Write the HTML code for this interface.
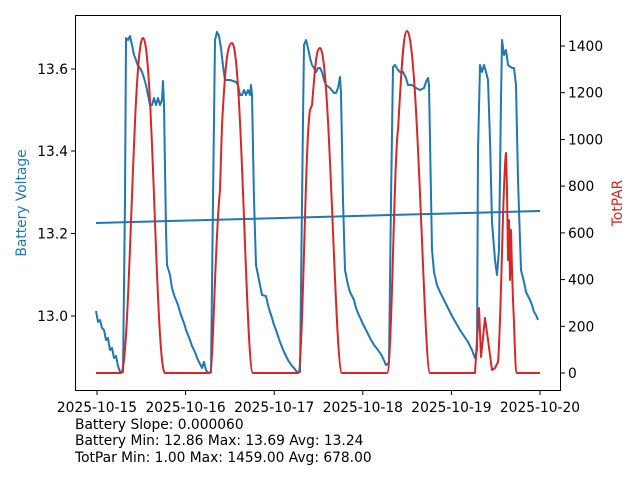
<!DOCTYPE html>
<html><head><style>body{margin:0;background:#fff}svg text{font-family:"DejaVu Sans","Liberation Sans",sans-serif;font-size:13.8px}</style></head>
<body>
<svg width="640" height="480" viewBox="0 0 640 480" xmlns="http://www.w3.org/2000/svg">
<rect width="640" height="480" fill="#fff"/>
<g fill="none" stroke-linejoin="round" stroke-width="2">
<polyline stroke="#1f77b4" points="96,223 540,211"/>
<polyline stroke="#1f77b4" points="96,311 98,322 100,320 102,328 104,330 106,340 108,338 110,350 112,348 114,358 116,356 118,366 120,372 123,372 125,200 126,38 128,40 130,36 132,45 134,55 136,60 138,66 140,68 142,72 144,78 146,85 148,95 150,105 152,105 154,98 156,105 158,98 160,105 162,100 163,81 164,105 166,230 167,265 170,275 172,288 174,295 176,300 178,305 180,312 182,318 184,323 186,330 188,335 190,340 192,346 194,350 196,355 198,360 200,364 202,368 204,362 206,370 208,373 211,372 213,200 215,40 217,32 219,36 221,48 223,66 225,80 230,80 236,82 238,85 240,95 242,95 244,90 246,95 248,90 250,95 251,85 252,95 254,200 256,265 260,285 262,295 266,296 268,305 270,312 272,318 274,325 276,330 278,336 280,342 282,347 284,352 286,356 288,360 290,363 292,366 294,368 297,372 300,372 303,120 304,45 306,40 308,48 310,58 312,65 314,68 316,72 318,68 320,68 322,72 324,80 326,85 330,88 334,93 336,93 338,88 340,77 341,93 343,200 345,270 348,285 350,292 354,300 356,308 358,313 362,322 366,330 370,338 374,345 378,350 382,356 386,365 389,363 391,200 393,67 395,65 398,70 400,72 403,72 406,78 408,85 412,85 416,88 420,90 424,88 426,82 428,78 429,85 432,250 434,272 437,285 440,292 444,300 448,308 452,316 456,323 460,330 464,336 468,342 472,350 475,358 477,350 478,150 480,65 482,72 484,65 486,72 488,80 490,140 492,222 495,260 497,275 499,250 501,100 502,40 504,55 506,50 508,65 512,68 514,68 516,85 518,180 521,270 524,282 526,292 530,300 532,305 534,312 536,315 538,320"/>
<polyline stroke="#d62728" points="96,373 121,373"/>
<path stroke="#d62728" d="M121,373 C130,373 133,38 143,38 C153,38 156,373 165,373 L210,373 C213,373 215,240 220,190 L222,125 C225,70 227,43 232,43 C242,43 246,373 253,373 L298,373 C303,373 305,140 310,110 L312,105 C315,70 316,48 320,48 C330,48 335,373 342,373 L387,373 C392,373 394,150 398,130 C401,80 403,31 407,31 C418,31 424,373 430,373 L475,373 L477,340 L479,308 L481,357 L485,318 L488,340 L490,355 L492,370 L495,368 L498,362 C501,330 503,170 506,153 L507,190 L508,260 L509,220 L510,280 L511,230 L512,270 L513,300 C515,340 515,373 517,373 L540,373"/>
</g>
<rect x="75.5" y="15.5" width="485" height="375" fill="none" stroke="#000" stroke-width="1"/>
<g stroke="#000" stroke-width="1">
<line x1="75" y1="316" x2="71" y2="316"/><line x1="75" y1="233.5" x2="71" y2="233.5"/><line x1="75" y1="151" x2="71" y2="151"/><line x1="75" y1="69" x2="71" y2="69"/>
<line x1="561" y1="373" x2="565" y2="373"/><line x1="561" y1="326.3" x2="565" y2="326.3"/><line x1="561" y1="279.6" x2="565" y2="279.6"/><line x1="561" y1="232.9" x2="565" y2="232.9"/><line x1="561" y1="186.1" x2="565" y2="186.1"/><line x1="561" y1="139.4" x2="565" y2="139.4"/><line x1="561" y1="92.7" x2="565" y2="92.7"/><line x1="561" y1="46" x2="565" y2="46"/>
<line x1="97" y1="391" x2="97" y2="395"/><line x1="185.6" y1="391" x2="185.6" y2="395"/><line x1="274.2" y1="391" x2="274.2" y2="395"/><line x1="362.8" y1="391" x2="362.8" y2="395"/><line x1="451.4" y1="391" x2="451.4" y2="395"/><line x1="540" y1="391" x2="540" y2="395"/>
</g>
<g text-anchor="end">
<text x="68" y="321">13.0</text><text x="68" y="238.5">13.2</text><text x="68" y="156">13.4</text><text x="68" y="74">13.6</text>
</g>
<g>
<text x="568" y="378">0</text><text x="568" y="331.3">200</text><text x="568" y="284.6">400</text><text x="568" y="237.9">600</text><text x="568" y="191.1">800</text><text x="568" y="144.4">1000</text><text x="568" y="97.7">1200</text><text x="568" y="51">1400</text>
</g>
<g text-anchor="middle">
<text x="97" y="412">2025-10-15</text><text x="185.6" y="412">2025-10-16</text><text x="274.2" y="412">2025-10-17</text><text x="362.8" y="412">2025-10-18</text><text x="451.4" y="412">2025-10-19</text><text x="540" y="412">2025-10-20</text>
</g>
<text transform="translate(26,203) rotate(-90)" text-anchor="middle" fill="#1f77b4">Battery Voltage</text>
<text transform="translate(622,203) rotate(-90)" text-anchor="middle" fill="#d62728">TotPAR</text>
<text x="75" y="429">Battery Slope: 0.000060</text>
<text x="75" y="445">Battery Min: 12.86 Max: 13.69 Avg: 13.24</text>
<text x="75" y="462">TotPar Min: 1.00 Max: 1459.00 Avg: 678.00</text>
</svg>
</body></html>
